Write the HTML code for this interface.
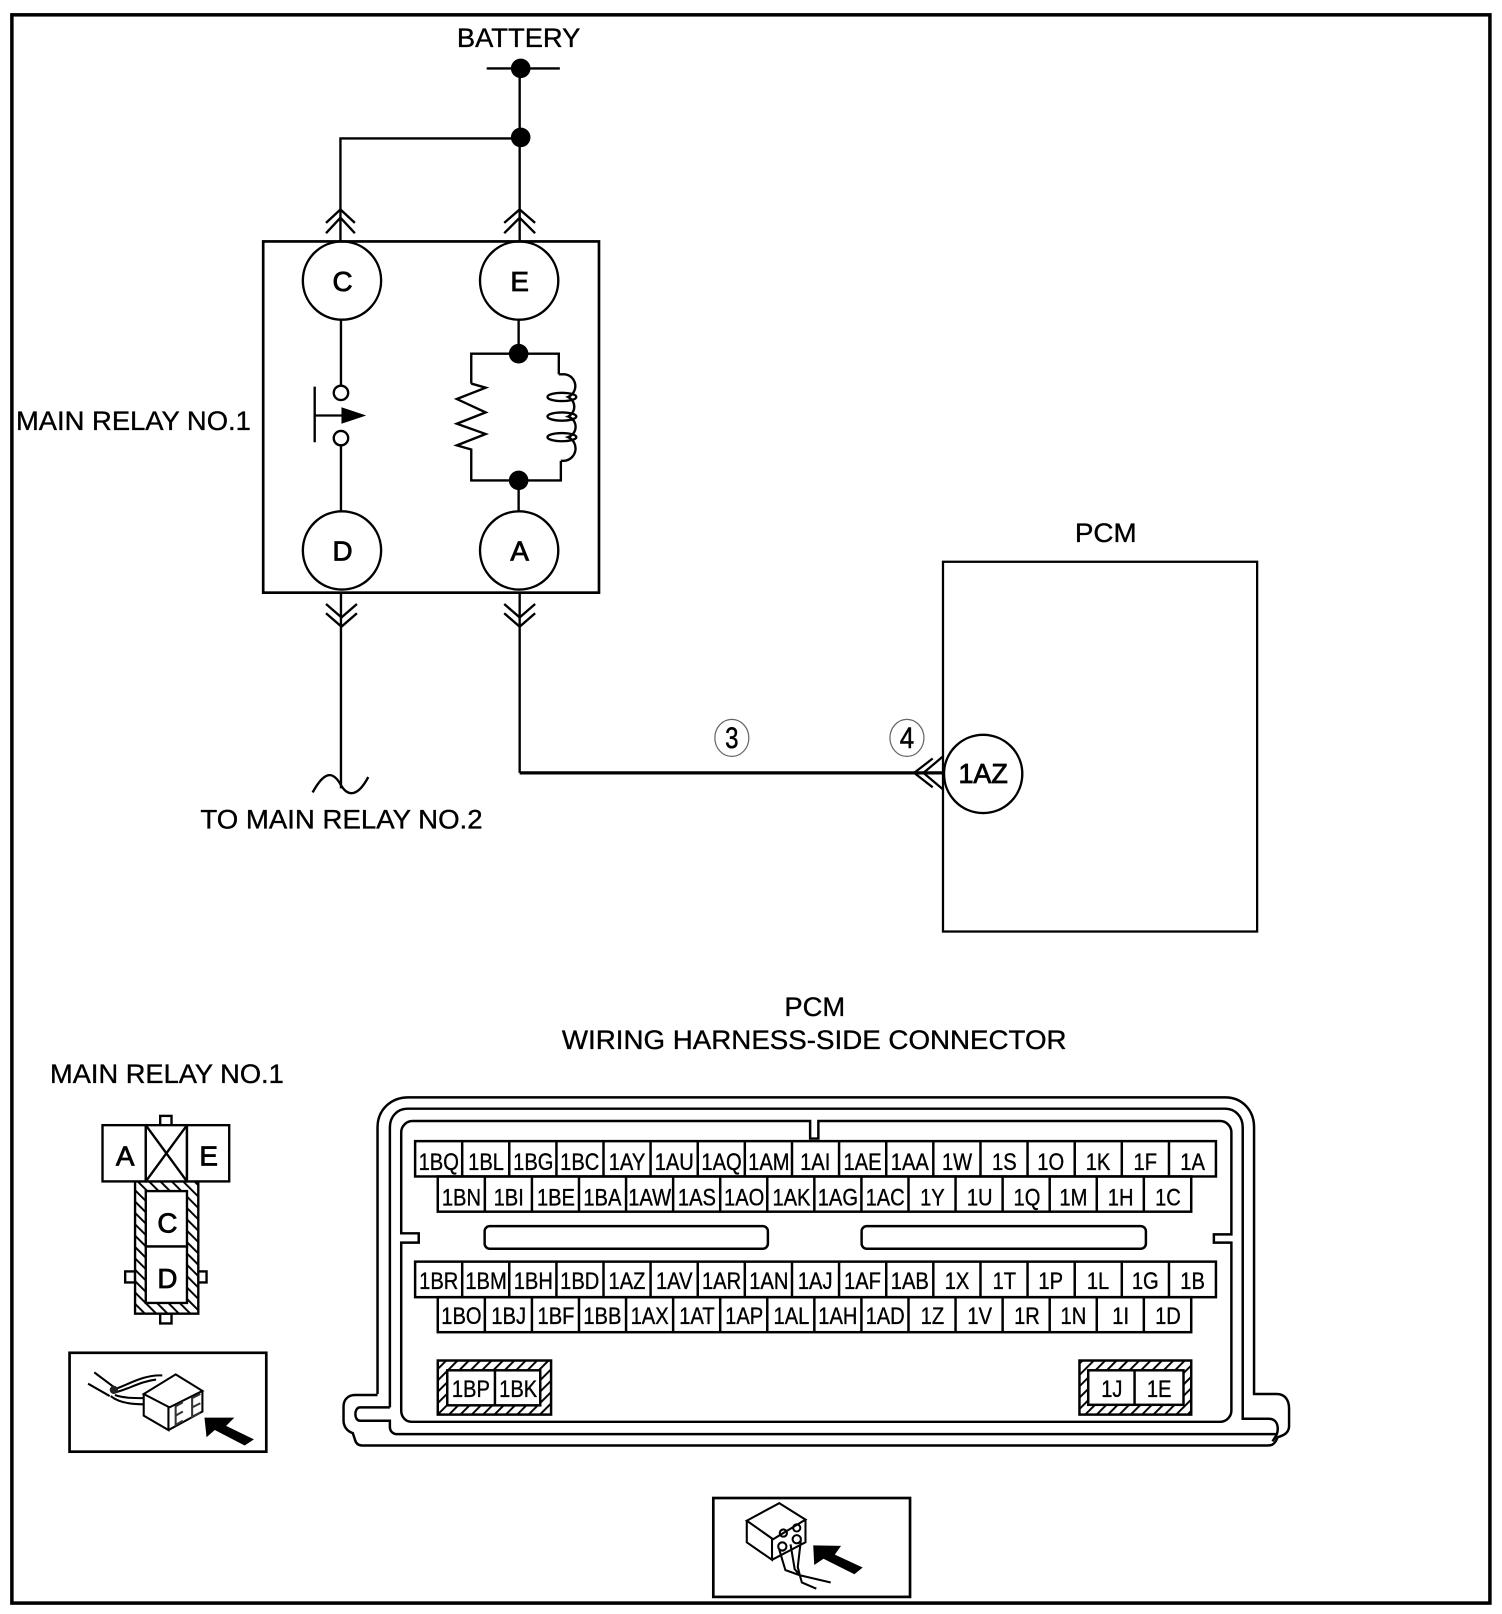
<!DOCTYPE html>
<html><head><meta charset="utf-8"><style>
html,body{margin:0;padding:0;background:#fff}
svg{display:block}
text{font-family:"Liberation Sans",sans-serif;fill:#000;stroke:#000;stroke-width:.35px}
.l{font-size:26px;text-anchor:start}
.c{font-size:23px;text-anchor:middle}
.n{font-size:27px;text-anchor:middle;stroke-width:.8px}
.d{font-size:29px;text-anchor:middle;stroke-width:.5px}
</style></head><body>
<svg width="1502" height="1614" viewBox="0.6 0.6 1458 1567" xmlns="http://www.w3.org/2000/svg">
<defs>
<pattern id="h" width="7.800" height="7.800" patternUnits="userSpaceOnUse" patternTransform="rotate(45)">
<rect width="7.800" height="7.800" fill="#fff"/><rect width="1.900" height="7.800" fill="#000"/>
</pattern>
<pattern id="h2" width="7.800" height="7.800" patternUnits="userSpaceOnUse" patternTransform="rotate(-45)">
<rect width="7.800" height="7.800" fill="#fff"/><rect width="1.900" height="7.800" fill="#000"/>
</pattern>
</defs>
<rect x="0" y="0" width="1460" height="1569" fill="#fff"/>
<rect x="12" y="15" width="1435" height="1542" fill="none" stroke="#000" stroke-width="3.400"/>

<g fill="none" stroke="#000" stroke-width="2.300">
<path d="M473 67H544M505 67V235M505 135H331V235"/>
<path d="M317 217L331 204L345 217M317 227L331 212L345 227M490 217L505 204L520 217M490 227L505 212L520 227"/>
<rect x="256" y="235" width="326" height="341" stroke-width="2.600"/>
<ellipse cx="332.500" cy="273" rx="38" ry="38"/><ellipse cx="504.500" cy="273" rx="38" ry="38"/>
<ellipse cx="332.500" cy="535" rx="38" ry="38"/><ellipse cx="504.500" cy="535" rx="38" ry="38"/>
<path d="M331.500 311V375M331.500 433V497"/>
<circle cx="331.500" cy="382" r="7"/><circle cx="331.500" cy="426" r="7"/>
<path d="M306 376V430M306 404H332"/>
<path d="M504 311V344M458 373V344H543V364M458 373L472 377L444 388L472 401L444 412L472 422L444 433L458 437V467H545V448M504 467V497"/>
<path d="M543 364H549A11.500 11.500 0 0 1 552 386A10.500 10.500 0 0 1 552 405A10.500 10.500 0 0 1 552 425A12 12 0 0 1 548 448H545"/>
<ellipse cx="546" cy="386" rx="14" ry="4"/>
<ellipse cx="546" cy="405" rx="14" ry="4"/>
<ellipse cx="546" cy="425" rx="14" ry="4"/>
<path d="M331.500 576V766M505 576V751"/>
<path d="M317 587L332 600L347 587M317 596L332 609L347 596M490 587L505 600L520 587M490 596L505 609L520 596"/>
<path d="M304 770C316 748 324 750 331 762C338 775 348 774 358 755"/>
<path d="M505 751H917" stroke-width="3.200"/>
<path d="M906 737L888 751L906 765M916 735L897 751L916 767" stroke-width="2.200"/>
<rect x="916" y="546" width="305" height="359" stroke-width="2.200"/>
<circle cx="955" cy="752" r="38" fill="#fff"/>
<ellipse cx="711" cy="717" rx="16.500" ry="18" stroke="#666" stroke-width="1.200"/>
<ellipse cx="881" cy="717" rx="16.500" ry="18" stroke="#666" stroke-width="1.200"/>
</g>
<g fill="#000">
<ellipse cx="506" cy="67" rx="9.500" ry="9.500"/><ellipse cx="506" cy="134" rx="9.500" ry="9.500"/>
<circle cx="504" cy="344" r="9.500"/><circle cx="504" cy="467" r="9.500"/>
<path d="M332 396L356 404L332 412Z"/>
</g>

<text class="l" x="444" y="46" textLength="120" lengthAdjust="spacingAndGlyphs">BATTERY</text>
<text class="l" x="16" y="418" textLength="228" lengthAdjust="spacingAndGlyphs">MAIN RELAY NO.1</text>
<text class="l" x="195" y="805" textLength="274" lengthAdjust="spacingAndGlyphs">TO MAIN RELAY NO.2</text>
<text class="l" x="1044" y="527" textLength="60" lengthAdjust="spacingAndGlyphs">PCM</text>
<text class="l" x="762" y="987" textLength="59" lengthAdjust="spacingAndGlyphs">PCM</text>
<text class="l" x="546" y="1019" textLength="490" lengthAdjust="spacingAndGlyphs">WIRING HARNESS-SIDE CONNECTOR</text>
<text class="l" x="49" y="1052" textLength="227" lengthAdjust="spacingAndGlyphs">MAIN RELAY NO.1</text>
<text class="n" x="333" y="283">C</text><text class="n" x="505" y="283">E</text>
<text class="n" x="333" y="545">D</text><text class="n" x="505" y="545">A</text>
<text class="n" x="955" y="761" textLength="48" lengthAdjust="spacingAndGlyphs">1AZ</text>
<text class="d" x="711" y="727" textLength="13" lengthAdjust="spacingAndGlyphs">3</text><text class="d" x="881" y="727" textLength="14" lengthAdjust="spacingAndGlyphs">4</text>

<!-- Relay connector -->
<g fill="none" stroke="#000" stroke-width="2.300">
<rect x="156" y="1084" width="11" height="9"/>
<rect x="122" y="1235" width="9.600" height="10.700"/><rect x="193" y="1235" width="8" height="10.700"/>
<rect x="156" y="1276" width="11" height="9.500"/>
<rect x="131.600" y="1147.600" width="61.400" height="128.400" fill="url(#h2)"/>
<rect x="142" y="1157" width="40" height="53.800" fill="#fff"/><rect x="142" y="1210.800" width="40" height="54.800" fill="#fff"/>
<rect x="100" y="1093" width="42" height="54.600" fill="#fff"/><rect x="142" y="1093" width="40" height="54.600" fill="#fff"/><rect x="182" y="1093" width="41" height="54.600" fill="#fff"/>
<path d="M142 1093L182 1147.600M182 1093L142 1147.600"/>
</g>
<text class="n" x="122" y="1132">A</text><text class="n" x="203" y="1132">E</text>
<text class="n" x="163" y="1197">C</text><text class="n" x="163" y="1251">D</text>

<!-- PCM connector outline -->
<g fill="none" stroke="#000" stroke-width="2.400">
<path d="M367 1354V1095C367 1078 380 1066 397 1066H1190C1206 1066 1218 1078 1218 1095V1354H1240C1248 1354 1252 1360 1252 1368V1385C1252 1392 1247 1394 1241 1396L1239 1400C1237 1403 1235 1404 1231 1404H352C348 1404 346 1402 345 1398L343 1392C337 1390 334 1385 334 1380V1366C334 1359 339 1355 345 1355H367"/>
<path d="M379 1367V1095C379 1085 386 1077 396 1077H1190C1200 1077 1207 1085 1207 1095V1378H1232C1238 1378 1241 1382 1241 1388C1241 1394 1238 1396 1236 1400M379 1367H350C344 1367 344 1380 350 1380H379V1386C379 1390 382 1393 386 1393H1240"/>
<path d="M401 1089H787V1106H795V1089H1185C1191 1089 1196 1094 1196 1100V1199H1179V1207H1196V1370C1196 1376 1191 1381 1185 1381H400C394 1381 390 1376 390 1370V1207H407V1198H390V1100C390 1094 395 1089 401 1089Z"/>
<rect x="471" y="1191" width="275" height="22" rx="5"/>
<rect x="837" y="1191" width="276" height="22" rx="5"/>
<rect x="403.500" y="1108.500" width="777.500" height="34.300"/>
<rect x="425.500" y="1142.800" width="731.500" height="34.200"/>
<rect x="403.500" y="1225.500" width="777.500" height="34.500"/>
<rect x="425.500" y="1260" width="731.500" height="34"/>
<rect x="425.500" y="1321.500" width="110" height="52.500" fill="url(#h)"/>
<rect x="1048.500" y="1321.500" width="108.500" height="52.500" fill="url(#h)"/>
<rect x="434.700" y="1331" width="90.300" height="34" fill="#fff"/>
<rect x="1057" y="1331" width="92.500" height="33.500" fill="#fff"/>
<path d="M481 1331V1365M1102 1331V1364.500"/>
<path d="M449.200 1108.500V1142.800M494.900 1108.500V1142.800M540.700 1108.500V1142.800M586.400 1108.500V1142.800M632.100 1108.500V1142.800M677.900 1108.500V1142.800M723.600 1108.500V1142.800M769.400 1108.500V1142.800M815.100 1108.500V1142.800M860.900 1108.500V1142.800M906.600 1108.500V1142.800M952.400 1108.500V1142.800M998.100 1108.500V1142.800M1043.900 1108.500V1142.800M1089.600 1108.500V1142.800M1135.400 1108.500V1142.800"/>
<path d="M471.200 1142.800V1177M516.900 1142.800V1177M562.600 1142.800V1177M608.300 1142.800V1177M654 1142.800V1177M699.700 1142.800V1177M745.400 1142.800V1177M791.100 1142.800V1177M836.800 1142.800V1177M882.500 1142.800V1177M928.200 1142.800V1177M973.900 1142.800V1177M1019.600 1142.800V1177M1065.300 1142.800V1177M1111 1142.800V1177"/>
<path d="M449.200 1225.500V1260M494.900 1225.500V1260M540.700 1225.500V1260M586.400 1225.500V1260M632.100 1225.500V1260M677.900 1225.500V1260M723.600 1225.500V1260M769.400 1225.500V1260M815.100 1225.500V1260M860.900 1225.500V1260M906.600 1225.500V1260M952.400 1225.500V1260M998.100 1225.500V1260M1043.900 1225.500V1260M1089.600 1225.500V1260M1135.400 1225.500V1260"/>
<path d="M471.200 1260V1294M516.900 1260V1294M562.600 1260V1294M608.300 1260V1294M654 1260V1294M699.700 1260V1294M745.400 1260V1294M791.100 1260V1294M836.800 1260V1294M882.500 1260V1294M928.200 1260V1294M973.900 1260V1294M1019.600 1260V1294M1065.300 1260V1294M1111 1260V1294"/>
</g>

<g transform="translate(403.500,1136.500) scale(.85,1)">
<text class="c" x="27">1BQ</text><text class="c" x="81">1BL</text><text class="c" x="135">1BG</text><text class="c" x="188">1BC</text><text class="c" x="242">1AY</text><text class="c" x="296">1AU</text><text class="c" x="350">1AQ</text><text class="c" x="404">1AM</text><text class="c" x="457">1AI</text><text class="c" x="511">1AE</text><text class="c" x="565">1AA</text><text class="c" x="619">1W</text><text class="c" x="673">1S</text><text class="c" x="726">1O</text><text class="c" x="780">1K</text><text class="c" x="834">1F</text><text class="c" x="888">1A</text>
</g>
<g transform="translate(425.500,1171) scale(.85,1)">
<text class="c" x="27">1BN</text><text class="c" x="81">1BI</text><text class="c" x="135">1BE</text><text class="c" x="188">1BA</text><text class="c" x="242">1AW</text><text class="c" x="296">1AS</text><text class="c" x="350">1AO</text><text class="c" x="404">1AK</text><text class="c" x="457">1AG</text><text class="c" x="511">1AC</text><text class="c" x="565">1Y</text><text class="c" x="619">1U</text><text class="c" x="673">1Q</text><text class="c" x="726">1M</text><text class="c" x="780">1H</text><text class="c" x="834">1C</text>
</g>
<g transform="translate(403.500,1252) scale(.85,1)">
<text class="c" x="27">1BR</text><text class="c" x="81">1BM</text><text class="c" x="135">1BH</text><text class="c" x="188">1BD</text><text class="c" x="242">1AZ</text><text class="c" x="296">1AV</text><text class="c" x="350">1AR</text><text class="c" x="404">1AN</text><text class="c" x="457">1AJ</text><text class="c" x="511">1AF</text><text class="c" x="565">1AB</text><text class="c" x="619">1X</text><text class="c" x="673">1T</text><text class="c" x="726">1P</text><text class="c" x="780">1L</text><text class="c" x="834">1G</text><text class="c" x="888">1B</text>
</g>
<g transform="translate(425.500,1286) scale(.85,1)">
<text class="c" x="27">1BO</text><text class="c" x="81">1BJ</text><text class="c" x="135">1BF</text><text class="c" x="188">1BB</text><text class="c" x="242">1AX</text><text class="c" x="296">1AT</text><text class="c" x="350">1AP</text><text class="c" x="404">1AL</text><text class="c" x="457">1AH</text><text class="c" x="511">1AD</text><text class="c" x="565">1Z</text><text class="c" x="619">1V</text><text class="c" x="673">1R</text><text class="c" x="726">1N</text><text class="c" x="780">1I</text><text class="c" x="834">1D</text>
</g>
<g transform="translate(434.700,1357) scale(.85,1)">
<text class="c" x="27">1BP</text><text class="c" x="81">1BK</text>
</g>
<g transform="translate(1057,1357) scale(.85,1)">
<text class="c" x="27">1J</text><text class="c" x="81">1E</text>
</g>

<!-- Left icon -->
<rect x="68" y="1314" width="191" height="96" fill="none" stroke="#000" stroke-width="2.600"/>
<g fill="none" stroke="#000" stroke-width="2">
<path d="M171 1335L197 1351L165 1367L140 1354ZM140 1354V1375L164 1389V1367M197 1351V1371L164 1389"/>
<path d="M92 1333L112 1348M86 1344L107 1356M110 1350C125 1345 140 1335 158 1336M110 1353C125 1350 135 1342 152 1340M108 1356C115 1362 128 1364 140 1364M112 1355C120 1358 130 1358 140 1358"/>
<path d="M178 1362L171 1366V1384L178 1380M171 1375L178 1371M195 1354L187 1358V1376L195 1372M187 1367L195 1363" stroke="#333"/>
</g>
<circle cx="111" cy="1350" r="4" fill="#222"/>
<path d="M199 1377L228 1377L220 1385L247 1398L238 1404L209 1389L201 1396Z" fill="#000"/>

<!-- Right icon -->
<rect x="693" y="1455" width="191" height="96" fill="none" stroke="#000" stroke-width="2.600"/>
<g fill="none" stroke="#000" stroke-width="2">
<path d="M757 1460L782.500 1476L751 1495L725.500 1477ZM725.500 1477V1498L750 1515V1495M782.500 1476V1498L750 1515"/>
<path d="M757 1505L763 1525L777 1530M768 1500L772 1524L777 1530M778 1496L775 1522L777 1530M777 1530L807 1537M777 1530L779 1537L793 1543"/>
<circle cx="761" cy="1489" r="3.500"/><circle cx="774" cy="1484" r="3.500"/><circle cx="760" cy="1502" r="4"/><circle cx="774" cy="1495" r="4"/>
</g>
<path d="M790 1501L817 1501.500L811 1510L838 1522.500L830 1529L800 1514L791 1520Z" fill="#000"/>
</svg>
</body></html>
